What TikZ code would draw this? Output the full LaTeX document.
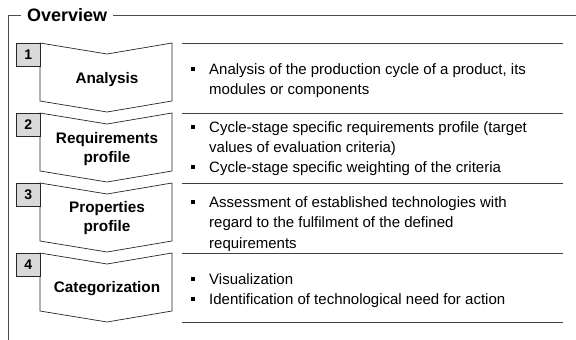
\documentclass[tikz,border=0pt]{standalone}
\usepackage{fontspec}
\setmainfont{Liberation Sans}
\tikzset{
  frameline/.style={draw=black!70, line width=0.9pt},
  chev/.style={draw=black!85, line width=0.7pt, fill=white},
  numbox/.style={draw=black!85, line width=0.7pt, fill=black!15, minimum width=24pt, minimum height=23pt, inner sep=0pt, anchor=north west, font=\fontsize{14}{16}\selectfont\bfseries},
  lbl/.style={align=center, font=\fontsize{15.3}{19}\selectfont\bfseries, inner sep=0pt},
  sepline/.style={draw=black!75, line width=0.9pt},
  bul/.style={fill=black, minimum size=4pt, inner sep=0pt},
  itm/.style={anchor=base west, align=left, font=\fontsize{15}{20.5}\selectfont, inner sep=0pt},
  ttl/.style={font=\fontsize{18}{20}\selectfont\bfseries, inner xsep=6pt, inner ysep=0pt},
}
\begin{document}
\begin{tikzpicture}[x=1pt,y=-1pt]
\useasboundingbox (0,0) rectangle (576,340);
% frame
\node[ttl, anchor=west] (title) at (21,15) {Overview};
\coordinate (ftl) at (8,15);
\coordinate (ftr) at (576,15);
\coordinate (fbl) at (8,340);
\draw[frameline] (title.west |- ftl) -- (ftl) -- (fbl);
\draw[frameline] (title.east |- ftr) -- (ftr);
% chevrons
\foreach \t/\n in {43/1,113/2,183/3,253/4}{
  \draw[chev] (40,\t) -- (107,\t+11) -- (172,\t) -- (172,\t+58) -- (107,\t+69) -- (40,\t+58) -- cycle;
  \node[numbox] (n\n) at (16,\t) {\n};
}
\node[lbl] (l1) at (107,80) {Analysis};
\node[lbl] (l2) at (107,149.5) {Requirements\\profile};
\node[lbl] (l3) at (107,218.5) {Properties\\profile};
\node[lbl] (l4) at (107,289) {Categorization};
% separator lines
\foreach \y/\k in {43/1,113/2,183/3,253/4,322/5}{
  \coordinate (sa\k) at (182,\y);
  \coordinate (sb\k) at (563,\y);
  \draw[sepline] (sa\k) -- (sb\k);
}
% bullets (base anchor = baseline of the last line)
\node[bul] (q1) at (193,69) {};
\node[itm] (t1) at (209,94.5) {Analysis of the production cycle of a product, its\\modules or components};
\node[bul] (q2) at (193,127) {};
\node[itm] (t2) at (209,152.5) {Cycle-stage specific requirements profile (target\\values of evaluation criteria)};
\node[bul] (q3) at (193,167) {};
\node[itm] (t3) at (209,172) {Cycle-stage specific weighting of the criteria};
\node[bul] (q4) at (193,202) {};
\node[itm] (t4) at (209,248) {Assessment of established technologies with\\regard to the fulfilment of the defined\\requirements};
\node[bul] (q5) at (193,279) {};
\node[itm] (t5) at (209,284) {Visualization};
\node[bul] (q6) at (193,299) {};
\node[itm] (t6) at (209,304) {Identification of technological need for action};
\end{tikzpicture}
\end{document}
